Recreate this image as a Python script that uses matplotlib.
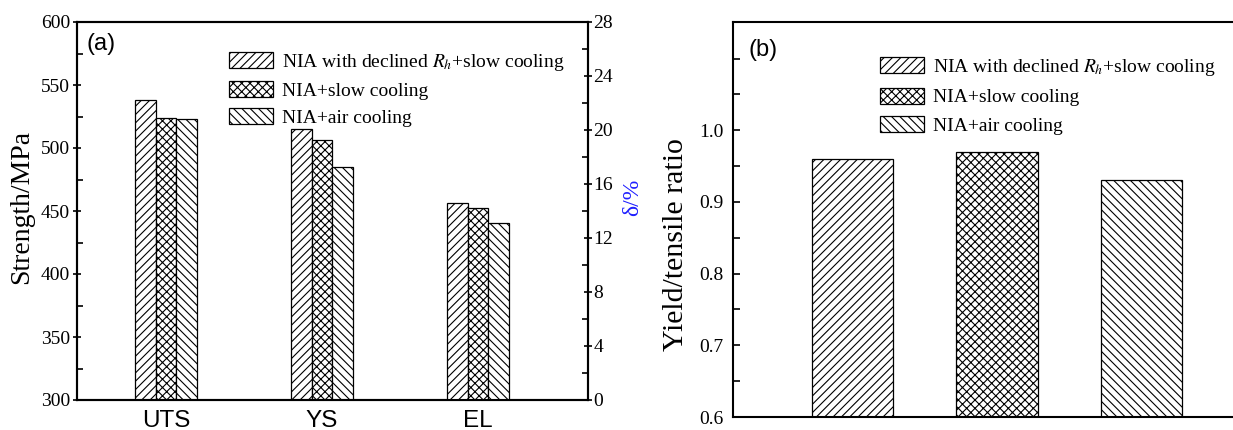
import matplotlib
matplotlib.use("Agg")
import matplotlib.pyplot as plt
import numpy as np
from matplotlib.ticker import MultipleLocator, FixedLocator, FuncFormatter

plt.rcParams['font.family'] = ['Liberation Serif', 'DejaVu Serif']
plt.rcParams['mathtext.fontset'] = 'stix'
plt.rcParams['hatch.linewidth'] = 0.8

# ---- data ----
series_labels = [r'NIA with declined $R_h$+slow cooling', 'NIA+slow cooling', 'NIA+air cooling']
hatches = ['////', 'xxxx', '\\\\\\\\']
uts_values = [538, 524, 523]      # MPa
ys_values = [515, 506, 485]       # MPa
el_values = [14.6, 14.2, 13.1]    # %
all_categories = ['UTS', 'YS', 'EL']
ratio_values = [0.96, 0.97, 0.93]

W, H = 1233, 430
fig = plt.figure(figsize=(W / 100, H / 100), dpi=100)

def fx(px):
    return px / W

def fy(py):
    return 1 - py / H

# ---- panel (a) ----
ax1 = fig.add_axes([fx(77), fy(400), fx(588 - 77), fy(22) - fy(400)])
ax2 = ax1.twinx()
bw = 0.1327
bars = []
for j in range(3):
    xs = [0 + (j - 1) * bw, 1 + (j - 1) * bw]
    b = ax1.bar(xs, [uts_values[j], ys_values[j]], width=bw, color='white',
                edgecolor='black', linewidth=0.9, hatch=hatches[j],
                label=series_labels[j], zorder=2)
    bars.append(b)
    ax2.bar([2 + (j - 1) * bw], [el_values[j]], width=bw, color='white',
            edgecolor='black', linewidth=0.9, hatch=hatches[j], zorder=2)

ax1.set_xlim(-0.57, 2.705)
ax1.set_ylim(300, 600)
ax2.set_ylim(0, 28)
ax1.set_xticks(range(3))
ax1.set_xticklabels(all_categories, family='Liberation Sans', fontsize=17.5)
ax1.tick_params(axis='x', length=0, pad=7)
ax1.yaxis.set_major_locator(MultipleLocator(50))
ax1.yaxis.set_minor_locator(MultipleLocator(25))
ax1.tick_params(axis='y', which='major', direction='inout', length=6, width=1.2, labelsize=14, pad=2)
ax1.tick_params(axis='y', which='minor', direction='in', length=4, width=1.2)
ax2.yaxis.set_major_locator(MultipleLocator(4))
ax2.yaxis.set_minor_locator(MultipleLocator(2))
ax2.tick_params(axis='y', which='major', direction='inout', length=6, width=1.2, labelsize=14, pad=1)
ax2.tick_params(axis='y', which='minor', direction='in', length=4, width=1.2)
for a in (ax1, ax2):
    for s in a.spines.values():
        s.set_linewidth(1.5)

fig.text(fx(22), fy(207), 'Strength/MPa', rotation=90, ha='center', va='center', fontsize=20)
fig.text(fx(633), fy(197), 'δ/%', rotation=90, ha='center', va='center', fontsize=17, color='#1f1fff')
fig.text(fx(87), fy(44), '(a)', ha='left', va='center', fontsize=17, family='Liberation Sans')

ax1.legend(handles=bars, loc='upper left', bbox_to_anchor=(fx(229), fy(52)),
           bbox_transform=fig.transFigure, frameon=False, fontsize=14,
           handlelength=2.27, handleheight=0.88, handletextpad=0.45,
           labelspacing=0.42, borderaxespad=0, borderpad=0)

# ---- panel (b) ----
ax3 = fig.add_axes([fx(733), fy(417), fx(1240 - 733), fy(22) - fy(417)])
bw2 = 0.5625
bars_b = []
for j in range(3):
    b = ax3.bar([j], [ratio_values[j]], width=bw2, color='white', edgecolor='black',
                linewidth=0.9, hatch=hatches[j], label=series_labels[j], zorder=2)
    bars_b.append(b)
ax3.set_xlim(-0.826, 2.68)
ax3.set_ylim(0.6, 1.151)
ax3.set_xticks([])
ax3.yaxis.set_major_locator(FixedLocator([0.6, 0.7, 0.8, 0.9, 1.0, 1.1]))
ax3.yaxis.set_minor_locator(FixedLocator([0.65, 0.75, 0.85, 0.95, 1.05]))
ax3.yaxis.set_major_formatter(FuncFormatter(lambda v, p: f'{v:.1f}' if v <= 1.0001 else ''))
ax3.tick_params(axis='y', which='both', direction='in', length=5, width=1.2, labelsize=14, pad=7)
ax3.spines['right'].set_visible(False)
for s in ax3.spines.values():
    s.set_linewidth(1.5)
fig.text(fx(676), fy(245), 'Yield/tensile ratio', rotation=90, ha='center', va='center', fontsize=21.5)
fig.text(fx(749), fy(50), '(b)', ha='left', va='center', fontsize=17, family='Liberation Sans')

ax3.legend(handles=bars_b, loc='upper left', bbox_to_anchor=(fx(880), fy(57)),
           bbox_transform=fig.transFigure, frameon=False, fontsize=14,
           handlelength=2.27, handleheight=0.88, handletextpad=0.45,
           labelspacing=0.5, borderaxespad=0, borderpad=0)

fig.savefig('out.png', dpi=100)
